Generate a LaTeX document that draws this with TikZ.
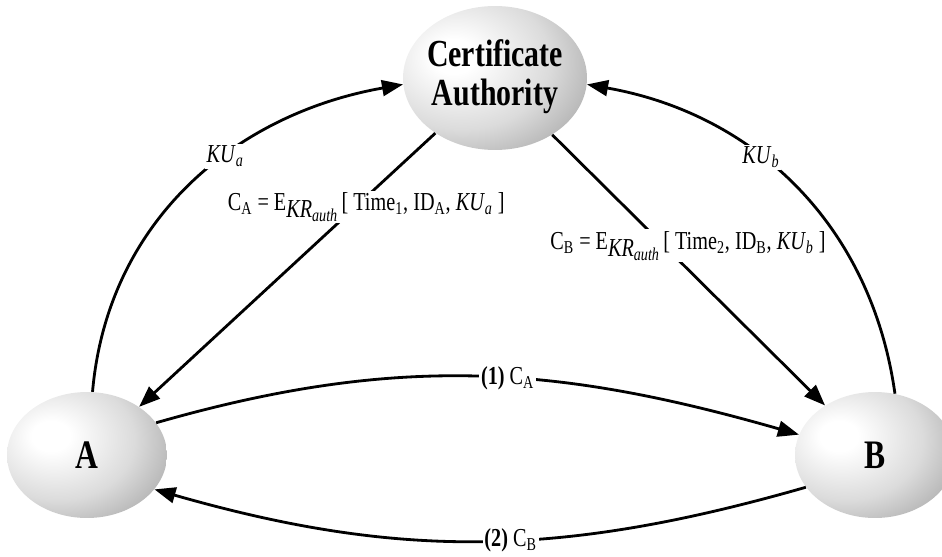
\documentclass[tikz,border=0pt]{standalone}
\usepackage{fontspec}
\setmainfont{Liberation Serif}
\usepackage{graphicx}
\usetikzlibrary{arrows.meta,shapes.geometric}

\pgfdeclareradialshading{sphere}{\pgfpoint{-12bp}{8bp}}{%
  color(0bp)=(white); color(6bp)=(white); color(24bp)=(black!14);
  color(38bp)=(black!32); color(50bp)=(black!42); color(62bp)=(black!50); color(100bp)=(black!50)}

\newcommand{\tall}[1]{\scalebox{1}[1.28]{#1}}

\tikzset{
  party/.style={ellipse, shade, shading=sphere, inner sep=0pt, font=\fontsize{18}{20}\selectfont\bfseries},
  msg/.style={fill=white, inner sep=1pt, font=\fontsize{11.5}{13}\selectfont},
  flow/.style={-{Triangle[length=12pt,width=9pt]}, line width=1.6pt},
}

\begin{document}
\begin{tikzpicture}[x=0.02cm, y=0.02cm]
    \useasboundingbox (0,0) rectangle (942,556);
    % Zertifizierungsstelle
    \node[party, minimum width=3.68cm, minimum height=2.88cm, font=\fontsize{17}{17.5}\selectfont\bfseries] (CA) at (495,478)
        {\makebox[0pt]{\tall{\begin{tabular}{@{}c@{}}Certificate\\Authority\end{tabular}}}};
    % Teilnehmer
    \foreach \n/\x in {A/87, B/875} {
        \node[party, minimum width=3.2cm, minimum height=2.52cm] (\n) at (\x,101) {\tall{\n}};
    }
    % oeffentliche Schluessel an die CA
    \draw[flow] (A.85) to[out=85, in=190] node[msg, pos=0.6] {\tall{\textit{KU}\textsubscript{\textit{a}}}} (CA.184);
    \draw[flow] (B.72) to[out=98, in=-10] node[msg, pos=0.6] {\tall{\textit{KU}\textsubscript{\textit{b}}}} (CA.-4);
    % Zertifikate zurueck
    \draw[flow] (CA) -- node[msg, pos=0.27, xshift=0.22cm]
        {\tall{C\textsubscript{A} = E\raisebox{-0.6ex}{\textit{KR}\textsubscript{\textit{auth}}}\,[ Time\textsubscript{1}, ID\textsubscript{A}, \textit{KU}\textsubscript{\textit{a}} ]}} (A);
    \draw[flow] (CA) -- node[msg, pos=0.41, xshift=0.48cm]
        {\tall{C\textsubscript{B} = E\raisebox{-0.6ex}{\textit{KR}\textsubscript{\textit{auth}}}\,[ Time\textsubscript{2}, ID\textsubscript{B}, \textit{KU}\textsubscript{\textit{b}} ]}} (B);
    % Austausch der Zertifikate
    \draw[flow] (A.25) to[out=16, in=164] node[msg, pos=0.55] {\tall{\textbf{(1)} C\textsubscript{A}}} (B.165);
    \draw[flow] (B.205) to[out=196, in=-16] node[msg, pos=0.45] {\tall{\textbf{(2)} C\textsubscript{B}}} (A.-27);
\end{tikzpicture}
\end{document}
